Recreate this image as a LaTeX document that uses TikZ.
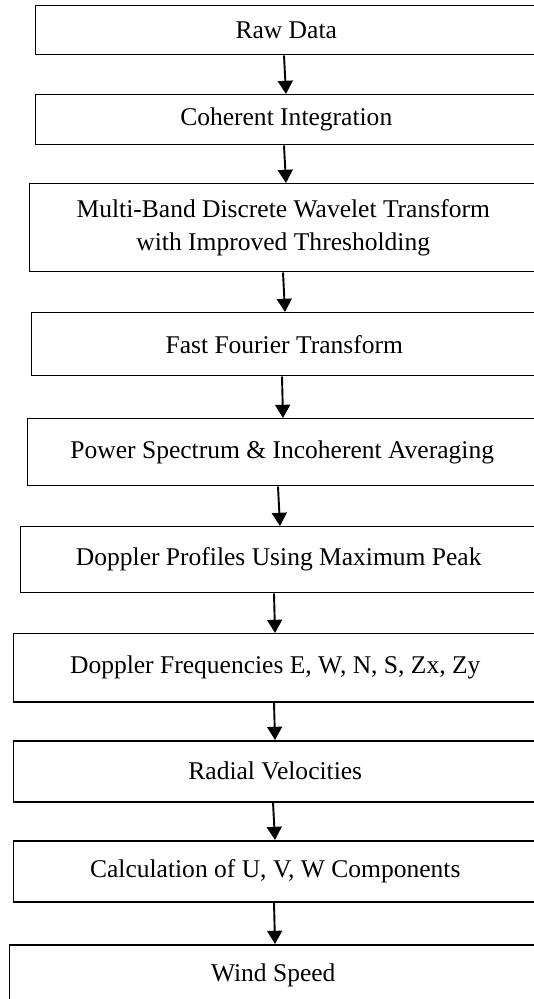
\documentclass[tikz,border=0pt]{standalone}
\usepackage{fontspec}
\setmainfont{Liberation Serif}
\usepackage{tikz}
\usetikzlibrary{arrows.meta}

\newlength\pxu
\setlength\pxu{0.47pt}

\tikzset{
  stepbox/.style={draw, line width=0.7pt, anchor=north west, inner sep=0pt,
    align=center, font=\fontsize{12}{15.5}\selectfont},
  flowarr/.style={line width=0.9pt, -{Triangle[width=7pt,length=6.2pt]}}
}

\begin{document}
\begin{tikzpicture}[x=\pxu, y=-\pxu]

		\useasboundingbox (0,0) rectangle (534,999);
		\clip (0,0) rectangle (534,999);

		\node[stepbox, minimum width=501\pxu, minimum height=49.5\pxu] (raw) at (35,4.5) {Raw Data};
		\node[stepbox, minimum width=501\pxu, minimum height=50\pxu] (coh) at (35,94) {Coherent Integration};
		\node[stepbox, minimum width=507\pxu, minimum height=88\pxu] (mbdwt) at (29,183) {Multi-Band Discrete Wavelet Transform\\with Improved Thresholding};
		\node[stepbox, minimum width=505\pxu, minimum height=63\pxu] (fft) at (31,312) {Fast Fourier Transform};
		\node[stepbox, minimum width=509\pxu, minimum height=67\pxu] (pow) at (27,418) {Power Spectrum \& Incoherent Averaging};
		\node[stepbox, minimum width=516\pxu, minimum height=66\pxu] (dprof) at (20,526) {Doppler Profiles Using Maximum Peak};
		\node[stepbox, minimum width=523\pxu, minimum height=68\pxu] (dfreq) at (13,633) {Doppler Frequencies E, W, N, S, Zx, Zy};
		\node[stepbox, minimum width=523\pxu, minimum height=61\pxu] (radv) at (13,740) {Radial Velocities};
		\node[stepbox, minimum width=523\pxu, minimum height=61\pxu] (uvw) at (13,840) {Calculation of U, V, W Components};
		\node[stepbox, minimum width=527\pxu, minimum height=61\pxu] (wind) at (9,944) {Wind Speed};

		% arrows between the steps
		\draw[flowarr] ([xshift=249\pxu]raw.south west) -- ([xshift=251\pxu]coh.north west);
		\draw[flowarr] ([xshift=249\pxu]coh.south west) -- ([xshift=257\pxu]mbdwt.north west);
		\draw[flowarr] ([xshift=254\pxu]mbdwt.south west) -- ([xshift=254\pxu]fft.north west);
		\draw[flowarr] ([xshift=251\pxu]fft.south west) -- ([xshift=256\pxu]pow.north west);
		\draw[flowarr] ([xshift=251\pxu]pow.south west) -- ([xshift=260\pxu]dprof.north west);
		\draw[flowarr] ([xshift=254\pxu]dprof.south west) -- ([xshift=262\pxu]dfreq.north west);
		\draw[flowarr] ([xshift=261\pxu]dfreq.south west) -- ([xshift=262\pxu]radv.north west);
		\draw[flowarr] ([xshift=260\pxu]radv.south west) -- ([xshift=262\pxu]uvw.north west);
		\draw[flowarr] ([xshift=261\pxu]uvw.south west) -- ([xshift=266\pxu]wind.north west);

\end{tikzpicture}
\end{document}
